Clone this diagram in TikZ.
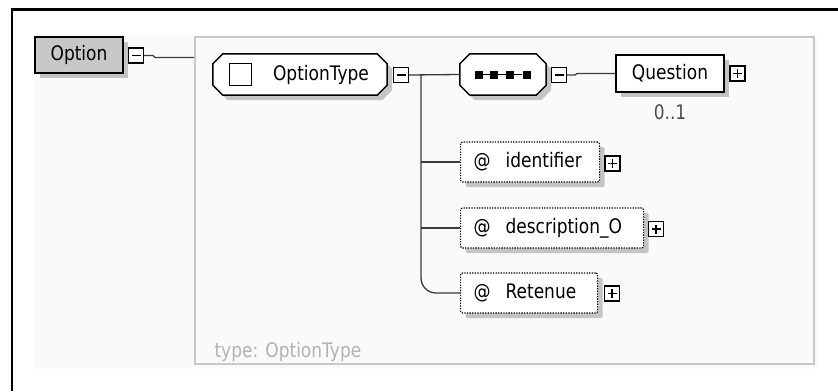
\documentclass[tikz,border=0pt]{standalone}
\usepackage{fontspec}
\setmainfont{DejaVu Sans}[FakeStretch=0.85]
\usetikzlibrary{shadows}

\definecolor{panel}{HTML}{FAFAFA}
\definecolor{typeframe}{HTML}{C8C8C8}
\definecolor{shadowgray}{HTML}{C4C4C4}
\definecolor{elemfill}{HTML}{C8C8C8}
\definecolor{wire}{HTML}{3C3C3C}

% octagonal outline around node #1, moved by (#2,#3)
\newcommand\chamferpath[3]{%
  ([xshift=10pt+#2,yshift=#3]#1.north west) -- ([xshift=-10pt+#2,yshift=#3]#1.north east)
  -- ([xshift=#2,yshift=-10pt+#3]#1.north east) -- ([xshift=#2,yshift=10pt+#3]#1.south east)
  -- ([xshift=-10pt+#2,yshift=#3]#1.south east) -- ([xshift=10pt+#2,yshift=#3]#1.south west)
  -- ([xshift=#2,yshift=10pt+#3]#1.south west) -- ([xshift=#2,yshift=-10pt+#3]#1.north west) -- cycle}
\newcommand\groupoutline[1]{%
  \fill[shadowgray] \chamferpath{#1}{5pt}{-5pt};
  \filldraw[fill=white,line width=1.5pt,line join=miter] \chamferpath{#1}{0pt}{0pt};}

\begin{document}
\begin{tikzpicture}[x=1pt,y=-1pt,
  font=\fontsize{20}{24}\selectfont,
  boxshadow/.style={drop shadow={shadow xshift=5pt,shadow yshift=-5pt,fill=shadowgray,opacity=1}},
  elembox/.style={draw,line width=1.4pt,inner sep=0pt,boxshadow},
  groupbox/.style={inner sep=0pt},
  attrbox/.style={draw,line width=1.2pt,dash pattern=on 1.3pt off 1.3pt,rounded corners=2pt,
    fill=white,boxshadow,inner ysep=0pt,inner xsep=13pt,align=left,minimum height=40pt,anchor=west},
  toggle/.style={draw,line width=1.4pt,fill=white,minimum size=15pt,inner sep=0pt},
  minus/.style={toggle,path picture={\draw[line width=1.4pt]
    ([xshift=-4.5pt]path picture bounding box.center) -- ([xshift=4.5pt]path picture bounding box.center);}},
  plus/.style={toggle,path picture={\draw[line width=1.4pt]
    ([xshift=-4.5pt]path picture bounding box.center) -- ([xshift=4.5pt]path picture bounding box.center)
    ([yshift=-4.5pt]path picture bounding box.center) -- ([yshift=4.5pt]path picture bounding box.center);}},
  wireline/.style={draw=wire,line width=1.3pt},
  seqdot/.style={fill=black,minimum size=8pt,inner sep=0pt}]

\useasboundingbox (0,0) rectangle (838,391);

% outer frame and panel
\fill[panel] (34,35) rectangle (817,369);
\draw[line width=2.5pt] (12,391) -- (12,9.5) -- (838,9.5);

% complex type frame
\node[draw=typeframe,line width=2pt,fill=panel,minimum width=619pt,minimum height=327pt,inner sep=0pt]
  (typebox) at (504.5,200.5) {};
\node[anchor=west,text=black!30] (typelabel) at (211,352) {type: OptionType};

% root element
\node[elembox,fill=elemfill,minimum width=88pt,minimum height=36pt] (option) at (79,55) {Option};
\node[minus] (optminus) at (136,55.5) {};
\coordinate (typein) at (typebox.west |- 0,57.5);
\draw[wireline] (optminus.east) -- (153,55.5) -- (155,57.5) -- (typein);

% OptionType group
\node[groupbox,minimum width=174pt,minimum height=41pt] (otype) at (300,74.5) {};
\groupoutline{otype}
\node[draw,line width=1.6pt,fill=white,minimum size=22pt,inner sep=0pt] (otsquare) at (240.5,74.5) {};
\node (otlabel) at (321,74.5) {OptionType};
\node[minus] (otminus) at (401,75) {};

% sequence compositor
\node[groupbox,minimum width=86pt,minimum height=41pt] (seq) at (503,74.5) {};
\groupoutline{seq}
\node[seqdot] (d1) at (478.5,74.5) {};
\node[seqdot] (d2) at (494,74.5) {};
\node[seqdot] (d3) at (510,74.5) {};
\node[seqdot] (d4) at (526.5,74.5) {};
\draw[line width=1.5pt] (d1) -- (d4);
\node[minus] (seqminus) at (559,75) {};

% Question element
\node[elembox,fill=white,minimum width=108pt,minimum height=37pt] (question) at (670,73.5) {Question};
\node[plus] (qplus) at (737.5,73.5) {};
\node[text=black!70] (qcard) at (670,112) {0..1};

% attributes
\node[attrbox,text width=113pt,minimum width=139pt] (ident) at (460,162) {@\hspace{15pt}identifier};
\node[plus] (idplus) at (612.5,163.5) {};
\node[attrbox,text width=157pt,minimum width=183pt] (descr) at (460,228) {@\hspace{15pt}description\_O};
\node[plus] (deplus) at (656,229) {};
\node[attrbox,text width=111pt,minimum width=137pt] (ret) at (460,293) {@\hspace{15pt}Retenue};
\node[plus] (retplus) at (612,293.5) {};

% connectors
\coordinate (branch) at (421,75);
\draw[wireline] (otminus.east) -- (seq.west);
\draw[wireline] (seqminus.east) -- (575,75) -- (577,73.5) -- (question.west);
\draw[wireline,rounded corners=15pt] (branch) |- (ret.west);
\draw[wireline] (branch |- ident.west) -- (ident.west);
\draw[wireline] (branch |- descr.west) -- (descr.west);

\end{tikzpicture}
\end{document}
